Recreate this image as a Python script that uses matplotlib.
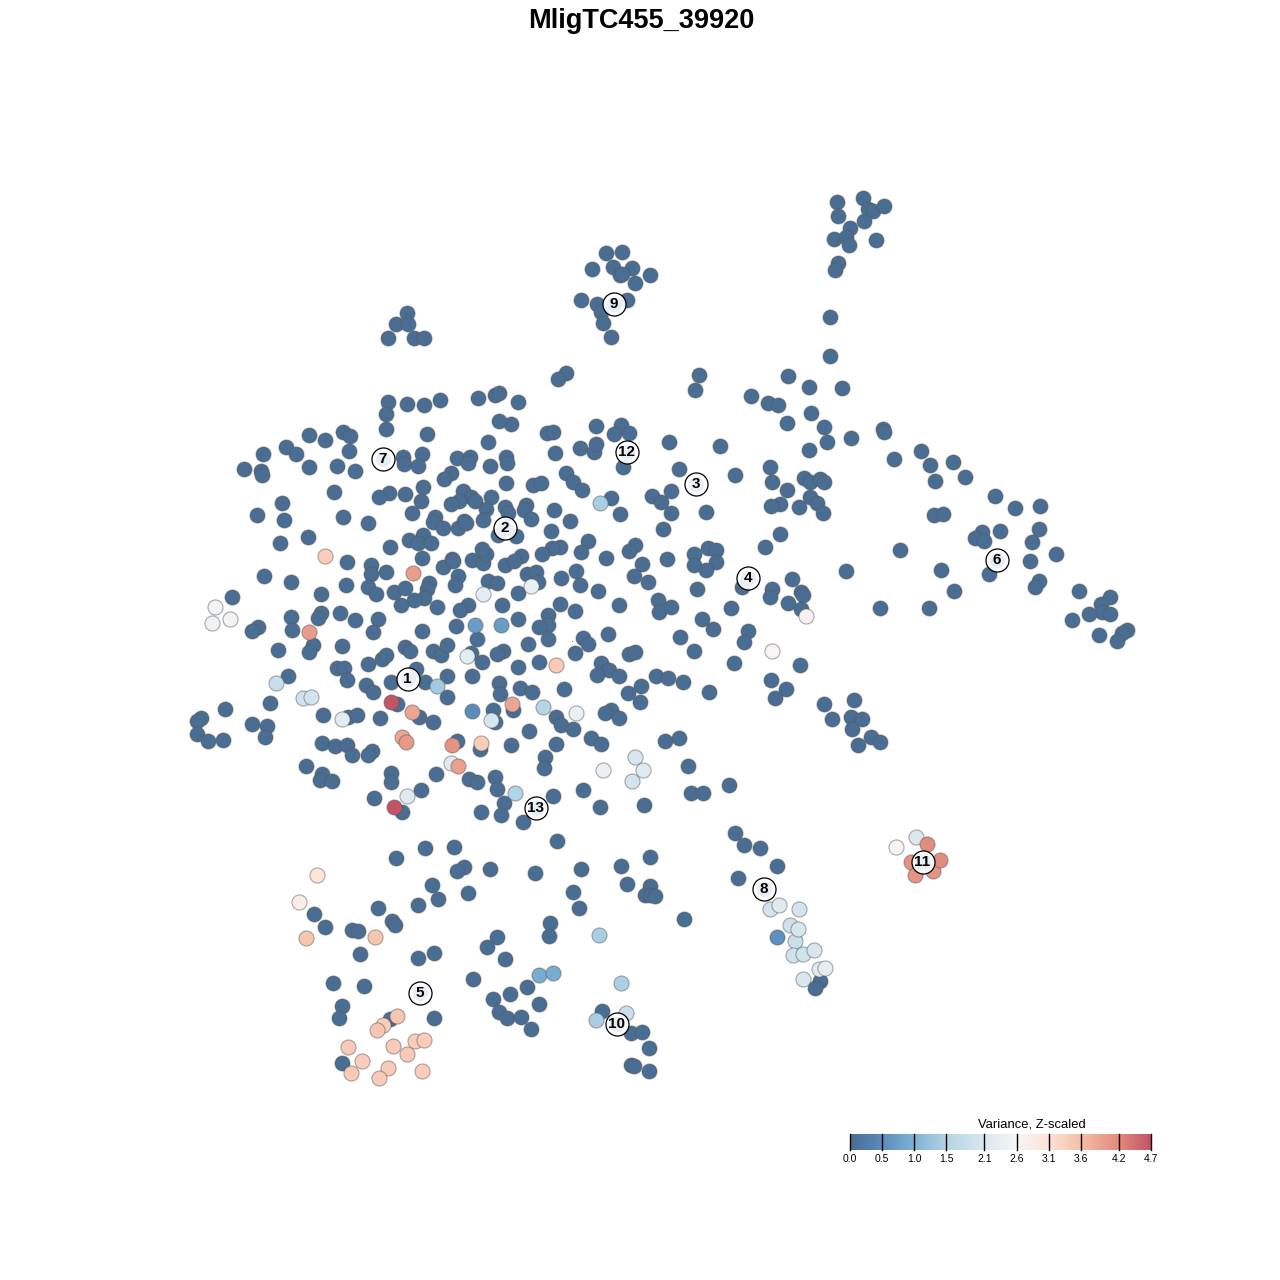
import matplotlib
matplotlib.use("Agg")
import matplotlib.pyplot as plt
import numpy as np
from matplotlib.colors import LinearSegmentedColormap

plt.rcParams['font.family'] = ['Liberation Sans', 'DejaVu Sans']

# points that sit at the bottom of the scale
dark = [
 (863,198),(837,202),(868,209),(873,211),(884,206),(838,216),(864,221),(850,228),(834,239),(846,237),(849,245),(876,240),
 (838,263),(835,270),(830,317),(830,356),
 (606,253),(622,252),(613,267),(592,269),(632,268),(620,275),(622,274),(650,275),(635,283),(581,300),(597,304),(627,300),
 (601,312),(603,323),(611,337),
 (407,313),(396,324),(408,324),(388,338),(414,338),(424,338),
 (699,375),(695,390),(566,373),(558,379),
 (788,376),(809,387),(842,388),(751,396),(768,403),(778,405),(811,413),(787,423),(824,427),(827,442),(851,438),(809,450),
 (883,429),(884,432),(894,459),(921,451),(930,465),(953,462),(965,477),(935,481),
 (995,496),(1015,508),(1040,506),(934,515),(943,514),(982,532),(975,538),(984,541),(1000,531),(1039,529),(1032,542),
 (1030,561),(1056,554),(900,550),(941,570),(989,574),(1039,581),(1035,587),(954,591),(929,608),(880,608),(846,571),
 (1079,591),(1110,597),(1101,604),(1102,612),(1110,614),(1089,614),(1072,620),(1099,635),(1127,630),(1122,633),(1117,641),
 (621,425),(596,426),(614,434),(629,433),(547,433),(553,432),(580,448),(594,452),(596,444),(555,453),(623,467),(669,442),
 (720,446),(679,469),(735,475),(566,473),(573,482),(582,490),(533,485),(541,483),(506,483),(506,457),(507,463),(511,424),
 (518,402),(499,421),(671,491),(652,496),(661,502),(611,498),(620,514),(671,513),(706,512),(663,529),(526,505),(524,510),
 (505,507),(508,513),(554,510),(531,519),(570,521),(516,536),(551,531),
 (770,467),(772,482),(804,478),(810,482),(820,479),(824,482),(787,490),(810,497),(817,503),(823,513),(799,507),(780,504),
 (771,506),(780,534),(765,547),
 (588,541),(560,547),(552,548),(581,552),(542,554),(521,556),(505,565),(606,558),(635,545),(629,551),(642,564),
 (667,559),(634,576),(648,582),(694,554),(694,565),(708,548),(716,550),(716,562),(706,570),(697,589),(742,587),(772,589),
 (792,579),(770,597),(801,592),(803,595),(788,603),(801,609),
 (576,571),(561,578),(580,585),(598,591),(527,574),(536,572),(538,582),(518,593),(502,605),(560,604),(575,611),
 (619,605),(658,600),(659,612),(671,607),(731,608),(702,619),(713,629),(748,631),(744,642),(680,637),(694,651),(548,615),
 (548,625),(539,627),(518,619),(548,639),(528,644),(583,638),(588,644),(608,634),(575,653),(629,654),(635,652),(734,663),
 (800,665),(503,651),(539,662),(601,663),
 (388,402),(407,404),(424,405),(440,400),(478,398),(495,395),(499,393),(386,414),(386,429),(427,434),(488,442),
 (309,435),(325,440),(343,432),(350,436),(286,447),(296,454),(263,454),(349,451),(244,469),(261,471),(262,475),(309,467),
 (337,466),(355,471),(403,457),(404,464),(422,454),(418,466),(457,458),(470,457),(468,463),(490,466),(451,473),(444,479),
 (334,492),(389,493),(379,497),(405,494),(423,487),(421,501),(463,491),(471,497),(475,501),(459,501),(451,504),
 (491,497),(486,509),(282,503),(257,515),(284,520),(343,517),(368,523),(412,513),(435,517),(433,522),(443,528),(458,528),
 (464,521),(466,523),(483,520),(498,535),
 (308,537),(280,543),(390,547),(423,535),(409,540),(418,543),(431,543),(347,562),(371,565),(371,574),(386,572),(422,558),
 (443,567),(452,559),(453,561),(472,560),(483,563),(486,554),(482,549),(514,561),
 (264,576),(291,582),(346,585),(368,587),(376,594),(394,592),(405,588),(429,583),(427,589),(424,598),(414,600),(401,605),
 (437,607),(458,576),(455,585),(488,581),(497,583),(468,605),(460,610),(232,597),(321,594),(321,613),(318,618),
 (340,613),(355,620),(378,619),(291,617),(258,627),(252,631),(292,630),(373,632),(422,631),(456,626),(477,639),
 (278,650),(313,645),(309,652),(342,646),(337,668),(344,668),(347,680),(368,664),(382,659),(386,655),(405,647),(410,651),
 (433,651),(441,655),(447,645),(471,653),(482,662),(497,654),(518,667),
 (288,676),(270,703),(225,709),(201,718),(197,721),(197,734),(208,741),(223,740),(252,724),(267,726),(265,737),
 (323,715),(348,717),(357,715),(380,718),(366,685),(373,692),(391,682),(416,669),(425,682),(447,676),(447,697),(472,676),
 (499,683),(500,694),(520,688),(397,704),(419,717),(433,722),(493,710),(495,722),(513,710),
 (322,743),(335,746),(347,745),(352,755),(372,751),(368,755),(457,741),(480,749),(511,745),(306,766),(322,774),(320,780),
 (332,781),(391,773),(391,782),(436,774),(469,779),(477,782),(495,777),(497,789),(421,790),(374,798),(402,812),(481,812),
 (504,803),(501,815),(523,822),
 (609,670),(597,675),(619,676),(656,676),(668,678),(683,682),(709,692),(641,686),(628,693),(640,702),(564,689),(532,692),
 (556,717),(561,725),(573,729),(556,744),(529,731),(591,738),(601,744),(611,710),(605,713),(619,718),(665,741),
 (679,738),(688,766),(729,785),(691,793),(703,793),(644,805),(600,807),(583,790),(553,796),(545,757),(544,768),
 (771,680),(786,689),(775,698),(824,704),(854,700),(832,719),(851,717),(862,719),(852,729),(871,737),(880,742),(858,745),
 (735,833),(744,845),(760,848),(777,866),(738,878),(820,981),(815,988),
 (557,841),(454,847),(425,848),(396,858),(650,857),(621,866),(464,867),(457,871),(490,869),(535,873),(581,869),(627,884),
 (650,886),(645,895),(650,895),(655,896),(432,885),(438,899),(418,905),(468,893),(573,892),(579,908),(684,919),(378,908),
 (314,914),(325,927),(392,921),(395,925),(352,930),(358,931),(550,923),(549,936),(497,937),(487,947),(434,953),(418,958),
 (505,959),(360,954),(333,983),(364,986),(473,979),(527,987),(510,994),(493,999),(539,1004),(342,1006),(339,1018),
 (390,1019),(434,1018),(499,1012),(507,1018),(521,1017),(531,1029),(602,1011),(631,1033),(642,1032),(649,1048),(631,1065),
 (634,1066),(649,1071),(342,1063),
]

# points with a visible colour: x, y, value
coloured = [
 (215,607,2.5),(212,623,2.45),(230,619,2.5),(325,556,3.4),(413,573,4.0),(309,632,4.0),(483,594,2.25),(475,625,0.7),(501,625,0.7),
 (531,586,2.35),(600,503,1.4),(806,616,2.7),(772,651,2.65),
 (467,656,2.25),(276,683,1.8),(303,698,1.95),(311,697,2.0),(342,719,2.25),(437,686,1.35),(391,702,4.7),(412,712,3.9),
 (472,711,0.5),(491,720,2.05),(512,704,3.9),(402,737,3.9),(406,742,4.05),(452,745,4.1),(481,743,3.4),(451,763,2.2),
 (458,766,3.95),(515,793,1.5),(407,796,2.2),(394,807,4.7),
 (556,665,3.45),(543,707,1.55),(576,713,2.35),(635,757,2.05),(643,770,2.2),(632,781,1.95),(603,770,2.4),
 (770,909,2.0),(779,905,2.2),(799,909,2.0),(790,925,1.9),(798,929,2.05),(777,937,0.55),(795,941,1.85),(814,950,2.05),
 (793,955,1.9),(803,954,1.95),(825,968,2.3),(819,969,2.15),(803,979,2.05),
 (916,837,2.1),(896,847,2.65),(927,844,4.2),(911,862,4.1),(940,860,4.2),(933,871,4.1),(915,875,4.1),(922,860,4.15),
 (317,875,3.1),(299,902,2.85),(306,938,3.5),(375,937,3.5),(599,935,1.4),(539,975,0.9),(553,973,0.9),(621,983,1.45),
 (626,1013,1.85),(596,1020,1.4),
 (397,1016,3.5),(383,1025,3.4),(377,1030,3.5),(348,1047,3.45),(393,1046,3.45),(415,1041,3.4),(424,1040,3.4),(407,1054,3.45),
 (362,1061,3.4),(351,1073,3.45),(388,1068,3.45),(379,1078,3.45),(422,1071,3.4),
]

# cluster labels
label_names = ['1','2','3','4','5','6','7','8','9','10','11','12','13']
label_x = [407,504,695,747,419,996,382,763,613,616,922,626,535]
label_y = [678,527,483,577,992,559,458,888,303,1023,861,451,807]

legend_ticks = [0.0,0.5,1.0,1.5,2.1,2.6,3.1,3.6,4.2,4.7]
legend_cols = ['#4a6d93','#5b8dbc','#7fb3d5','#b3d4e5','#dbe8f0','#f6f6f6','#fde4d8','#f6bfa8','#e28c7d','#c35466']
cmap = LinearSegmentedColormap.from_list('var', [(t/4.7, c) for t, c in zip(legend_ticks, legend_cols)])

fig = plt.figure(figsize=(12.8, 12.8), dpi=100)
ax = fig.add_axes([0, 0, 1, 1])
ax.set_xlim(-0.5, 1279.5)
ax.set_ylim(1279.5, -0.5)
ax.axis('off')

d = np.array(dark)
c = np.array(sorted(coloured, key=lambda p: p[2]))
xs = np.r_[d[:, 0], c[:, 0]]
ys = np.r_[d[:, 1], c[:, 1]]
vs = np.r_[np.zeros(len(d)), c[:, 2]]
ax.scatter(xs, ys, c=vs, cmap=cmap, vmin=0, vmax=4.7, s=118, edgecolors=(0.35, 0.35, 0.35, 0.5), linewidths=0.8, zorder=2)

ax.scatter([571], [640], s=0.6, color='#4a6d93', linewidths=0, zorder=2)

ax.scatter(label_x, label_y, s=275, facecolors=(1, 1, 1, 0.9), edgecolors='black', linewidths=0.9, zorder=3)
ax.scatter(label_x, label_y, s=120, color='#e8eef5', linewidths=0, zorder=3)
for n, x, y in zip(label_names, label_x, label_y):
    ax.text(x, y + 0.5, n, ha='center', va='center', fontsize=11, fontweight='bold', color='black', zorder=4)

ax.text(640.5, 20, 'MligTC455_39920', ha='center', va='center', fontsize=19.5, fontweight='bold', color='black')

# colour legend
cax = fig.add_axes([850/1280, 1-1150/1280, 301/1280, 16/1280])
grad = np.linspace(0, 4.7, 400).reshape(1, -1)
cax.imshow(grad, extent=[0, 4.7, 0, 1], aspect='auto', cmap=cmap, vmin=0, vmax=4.7)
for t in legend_ticks:
    cax.axvline(t, color='black', lw=1.0, clip_on=False)
cax.set_xlim(0, 4.7)
cax.set_ylim(0, 1)
cax.set_yticks([])
cax.set_xticks(legend_ticks)
cax.set_xticklabels([f'{t:.1f}' for t in legend_ticks], fontsize=7.5, color='black')
cax.tick_params(axis='x', length=0, pad=3)
for s in cax.spines.values():
    s.set_visible(False)
ax.text(1031, 1124, 'Variance, Z-scaled', ha='center', va='center', fontsize=9.4, color='black')

fig.savefig('out.png', dpi=100, facecolor='white')
